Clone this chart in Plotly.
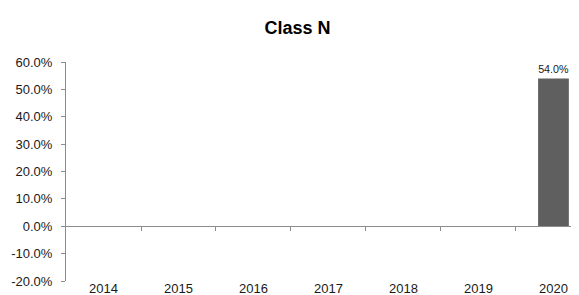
import plotly.graph_objects as go

years = ["2014", "2015", "2016", "2017", "2018", "2019", "2020"]
values = [None, None, None, None, None, None, 0.54]
boundaries = [0.5, 1.5, 2.5, 3.5, 4.5, 5.5]
y_ticks = [-0.2, -0.1, 0.0, 0.1, 0.2, 0.3, 0.4, 0.5, 0.6]
y_tick_labels = ["-20.0%", "-10.0%", "0.0%", "10.0%", "20.0%", "30.0%", "40.0%", "50.0%", "60.0%"]

FONT = "Arial, Liberation Sans, sans-serif"
AXIS = "#8c8c8c"

fig = go.Figure()
fig.add_trace(go.Bar(
    x=years, y=values,
    marker=dict(color="#5f5f5f", line=dict(width=0)),
    width=0.41,
    texttemplate="%{y:.1%}", textposition="outside",
    textfont=dict(size=13, color="#1a1a1a", family=FONT),
    cliponaxis=False, hoverinfo="skip",
))
# invisible trace to carry the zero-line axis with boundary ticks
fig.add_trace(go.Scatter(x=[boundaries[0]], y=[0], xaxis="x2", mode="markers",
                         marker=dict(opacity=0), showlegend=False, hoverinfo="skip"))

fig.update_layout(
    width=579, height=295,
    margin=dict(l=58, r=0, t=54, b=22),
    paper_bgcolor="white", plot_bgcolor="white",
    showlegend=False,
    font=dict(family=FONT, size=13, color="#1a1a1a"),
    title=dict(text="<b>Class N</b>", x=0.5, xanchor="center", y=1 - 20 / 295, yanchor="middle",
               font=dict(size=18, color="#000000", family=FONT)),
    xaxis=dict(type="category", range=[-0.5, 6.447], showline=False, ticks="",
               showgrid=False, zeroline=False, tickfont=dict(size=13),
               ticklabelstandoff=-2),
    xaxis2=dict(overlaying="x", anchor="free", position=0.25, range=[-0.5, 6.447],
                tickvals=boundaries, showticklabels=False, ticks="outside", ticklen=4,
                tickcolor=AXIS, showline=True, linecolor=AXIS, linewidth=1,
                showgrid=False, zeroline=False),
    yaxis=dict(range=[-0.2, 0.6], tickvals=y_ticks, ticktext=y_tick_labels,
               showline=True, linecolor=AXIS, linewidth=1, ticks="outside", ticklen=4,
               tickcolor=AXIS, showgrid=False, zeroline=False, tickfont=dict(size=13),
               ticklabelstandoff=6),
)

fig.write_html("out.html")
